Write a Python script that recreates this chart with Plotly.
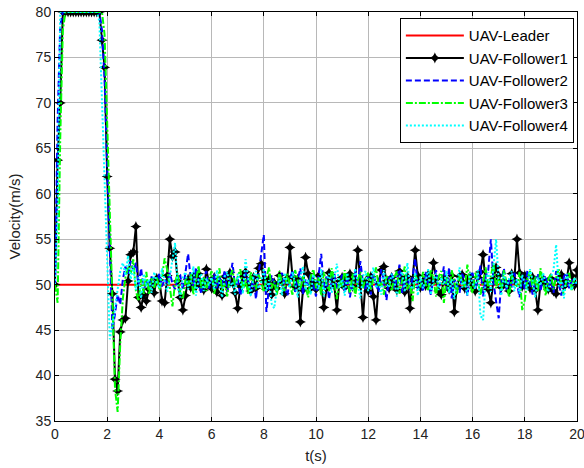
import numpy as np
import plotly.graph_objects as go

# Sampling instants (s), 0.1 s step over 0..20 s
t = np.round(np.linspace(0, 20, 201), 1)

# Leader holds a constant cruise speed
leader_t = [0, 20]
leader_v = [50, 50]

follower1 = [
    50, 63.7, 70, 80, 80, 80, 80, 80, 80, 80,
    80, 80, 80, 80, 80, 80, 80, 80, 76.9, 73.9,
    61.9, 54.0, 49.0, 39.6, 38.3, 44.8, 46.1, 46.3, 50.4, 53.3,
    53.6, 56.4, 48.6, 47.5, 48.9, 48.2, 49.5, 50.3, 49.1, 50.7,
    50.5, 48.2, 48.0, 51.0, 55.0, 53.1, 53.6, 50.4, 48.6, 47.2,
    48.8, 50.6, 49.7, 50.9, 49.8, 51.2, 50.1, 49.4, 51.7, 50.2,
    49.6, 50.8, 49.2, 50.4, 48.8, 50.9, 49.9, 51.3, 50.2, 49.1,
    47.4, 49.8, 50.9, 51.4, 50.0, 49.3, 50.8, 49.6, 51.8, 52.3,
    50.4, 49.5, 50.6, 48.9, 50.2, 49.6, 51.0, 50.3, 49.0, 50.7,
    54.1, 50.9, 49.8, 50.6, 45.9, 49.4, 53.0, 51.2, 49.6, 50.3,
    49.5, 51.0, 50.2, 47.5, 49.6, 51.3, 50.7, 49.9, 47.2, 50.4,
    50.8, 49.7, 50.5, 51.2, 49.8, 50.6, 53.8, 49.9, 46.4, 50.3,
    49.3, 50.9, 48.7, 46.1, 50.2, 51.6, 52.0, 50.4, 49.6, 50.8,
    50.1, 49.4, 51.5, 50.6, 49.2, 50.9, 47.4, 50.5, 53.8, 51.0,
    49.7, 50.4, 49.9, 51.1, 50.3, 52.4, 50.6, 49.3, 48.9, 50.7,
    50.2, 49.5, 51.0, 47.0, 49.8, 50.9, 51.1, 49.6, 50.4, 50.9,
    50.0, 49.3, 50.8, 51.4, 53.3, 50.2, 49.5, 48.0, 50.6, 51.9,
    51.0, 49.7, 50.4, 50.0, 49.3, 51.2, 50.5, 55.0, 51.3, 49.8,
    51.0, 50.2, 49.6, 50.8, 49.4, 47.2, 50.1, 50.6, 50.0, 49.5,
    50.7, 49.3, 49.0, 50.5, 51.1, 49.8, 50.4, 52.4, 51.0, 49.9,
    51.6,
]

follower2 = [
    50, 68.0, 78.5, 80, 80, 80, 80, 80, 80, 80,
    80, 80, 80, 80, 80, 80, 80, 80, 78.0, 72.5,
    63.0, 53.5, 45.0, 46.8, 48.9, 47.8, 50.6, 52.0, 51.2, 52.6,
    51.5, 52.4, 50.0, 51.8, 49.2, 50.5, 49.6, 50.9, 49.9, 50.4,
    51.2, 49.8, 50.6, 50.2, 51.3, 50.1, 49.5, 50.8, 51.0, 49.4,
    51.2, 53.4, 50.6, 49.8, 51.9, 50.4, 49.0, 50.7, 51.5, 49.6,
    50.3, 51.2, 49.5, 50.9, 50.0, 51.6, 49.2, 50.5, 52.4, 49.8,
    50.6, 48.8, 49.9, 51.3, 50.4, 49.3, 50.9, 48.4, 51.2, 53.6,
    55.5, 47.0, 49.8, 51.0, 50.2, 49.4, 50.6, 51.3, 49.7, 48.8,
    50.5, 51.6, 49.2, 50.4, 51.8, 48.9, 50.6, 49.9, 51.2, 50.0,
    48.7, 51.0, 53.4, 49.6, 50.9, 48.4, 50.7, 51.3, 49.5, 50.2,
    51.1, 49.3, 50.8, 48.6, 50.4, 51.5, 49.9, 52.6, 50.2, 49.4,
    50.9, 48.9, 51.3, 50.0, 49.2, 51.7, 50.4, 48.3, 50.8, 51.2,
    49.6, 50.7, 52.2, 49.1, 50.5, 51.0, 49.4, 50.8, 52.9, 49.5,
    50.6, 49.2, 51.4, 50.1, 48.9, 50.7, 51.6, 49.8, 50.3, 52.0,
    49.4, 51.9, 48.5, 50.6, 50.0, 49.1, 51.2, 50.5, 48.8, 50.9,
    51.3, 49.6, 50.4, 52.1, 48.7, 50.9, 51.6, 55.0, 50.3, 48.2,
    46.3, 50.5, 51.8, 49.4, 50.6, 49.7, 51.3, 50.1, 48.6, 50.8,
    49.5, 51.6, 50.2, 48.9, 50.7, 51.2, 49.3, 50.6, 51.0, 49.8,
    50.4, 49.1, 51.5, 50.2, 48.8, 50.9, 51.3, 49.6, 50.5, 50.0,
    50.3,
]

follower3 = [
    50, 48.0, 66.0, 78.0, 80, 80, 80, 80, 80, 80,
    80, 80, 80, 80, 80, 80, 80, 80, 80, 77.5,
    68.0, 59.0, 47.5, 38.5, 36.0, 43.5, 48.5, 50.8, 52.0, 51.2,
    52.8, 49.3, 48.2, 50.6, 49.0, 51.4, 48.9, 50.7, 49.6, 50.9,
    49.4, 50.8, 52.9, 51.6, 49.7, 47.6, 50.2, 51.3, 49.1, 48.4,
    50.6, 49.8, 51.2, 48.9, 50.4, 52.1, 49.6, 50.9, 49.3, 50.6,
    51.5, 49.0, 50.3, 51.8, 49.4, 50.1, 48.7, 50.9, 51.6, 49.8,
    50.9, 51.7, 49.3, 50.6, 48.9, 51.4, 50.2, 49.5, 51.1, 50.3,
    49.2, 50.8, 51.9, 49.6, 50.4, 48.8, 51.5, 50.1, 49.3, 51.2,
    50.0, 48.9, 51.6, 50.5, 49.4, 51.0, 49.8, 48.6, 50.9, 51.7,
    49.6, 50.8, 48.8, 51.4, 50.1, 49.3, 51.8, 50.4, 48.4, 50.7,
    49.8, 51.6, 50.3, 49.1, 51.2, 48.7, 50.5, 51.4, 49.6, 50.8,
    51.3, 49.4, 50.7, 51.9, 49.8, 50.2, 48.9, 51.0, 50.5, 49.3,
    50.8, 51.5, 49.0, 50.6, 52.0, 49.5, 50.2, 48.2, 51.1, 50.4,
    49.7, 51.4, 50.1, 49.3, 51.7, 50.6, 48.7, 50.9, 51.5, 48.0,
    50.8, 49.2, 51.6, 50.3, 48.9, 51.1, 50.5, 49.7, 52.2, 50.0,
    49.1, 51.3, 50.6, 48.8, 50.4, 51.9, 49.5, 50.8, 52.4, 49.6,
    50.9, 49.3, 51.6, 50.2, 48.6, 51.0, 50.4, 49.8, 51.4, 47.2,
    48.3, 50.7, 51.5, 49.6, 50.9, 49.2, 51.8, 50.3, 48.8, 50.6,
    51.2, 49.5, 50.8, 51.7, 49.9, 48.9, 50.6, 51.3, 49.4, 50.7,
    50.2,
]

follower4 = [
    50, 58.0, 80, 80, 80, 80, 80, 80, 80, 80,
    80, 80, 80, 80, 80, 80, 80, 79.0, 70.0, 61.0,
    54.5, 44.0, 45.5, 47.6, 49.8, 51.5, 52.4, 51.0, 53.2, 50.6,
    52.0, 49.4, 50.8, 48.5, 51.2, 49.8, 50.6, 49.1, 51.4, 50.2,
    49.6, 51.8, 50.4, 49.2, 50.9, 53.0, 54.6, 49.7, 48.6, 50.8,
    51.4, 49.5, 50.3, 52.0, 48.8, 50.6, 51.2, 49.3, 50.7, 49.9,
    50.8, 49.4, 51.6, 50.1, 48.6, 50.9, 51.4, 49.7, 50.3, 48.9,
    51.2, 50.4, 49.0, 52.8, 50.6, 48.7, 50.9, 51.5, 49.6, 50.2,
    51.8, 49.3, 50.5, 47.9, 47.4, 49.6, 50.8, 48.8, 51.3, 50.1,
    49.7, 51.4, 50.2, 48.6, 50.9, 52.0, 49.4, 50.6, 48.9, 51.1,
    50.3, 49.5, 51.7, 48.7, 50.4, 51.2, 49.1, 50.8, 52.3, 49.6,
    50.6, 48.8, 51.3, 50.0, 49.4, 51.8, 50.2, 48.5, 50.9, 51.5,
    49.3, 50.7, 51.9, 49.6, 50.4, 48.9, 51.6, 50.1, 49.7, 51.2,
    50.5, 48.7, 50.9, 51.4, 49.2, 52.4, 50.0, 49.5, 51.3, 48.8,
    50.9, 49.6, 50.3, 51.7, 48.9, 50.5, 51.2, 49.4, 50.8, 50.0,
    51.5, 49.1, 50.6, 48.4, 50.2, 51.9, 49.7, 50.4, 48.8, 51.3,
    50.1, 49.5, 51.6, 46.6, 46.1, 50.3, 51.4, 49.2, 52.0, 55.0,
    50.4, 48.8, 51.2, 49.6, 50.7, 51.5, 49.3, 50.6, 49.0, 51.1,
    50.2, 49.4, 51.7, 50.5, 48.6, 50.8, 49.9, 51.3, 50.1, 49.2,
    50.9, 51.6, 54.4, 49.8, 50.6, 48.5, 51.2, 50.0, 49.4, 50.8,
    50.0,
]

x_ticks = [0, 2, 4, 6, 8, 10, 12, 14, 16, 18, 20]
y_ticks = [35, 40, 45, 50, 55, 60, 65, 70, 75, 80]

FONT = "Liberation Sans, Arial, sans-serif"
TEXT = "#222222"

fig = go.Figure()
fig.add_trace(go.Scatter(x=leader_t, y=leader_v, mode="lines", name="UAV-Leader",
                         legendgroup="a", line=dict(color="#ff0000", width=2)))
fig.add_trace(go.Scatter(x=t, y=follower1, mode="lines+markers", name="UAV-Follower1",
                         legendgroup="b", line=dict(color="#000000", width=2),
                         marker=dict(symbol="star-diamond", size=8, color="#000000")))
fig.add_trace(go.Scatter(x=t, y=follower2, mode="lines", name="UAV-Follower2",
                         legendgroup="c", line=dict(color="#0000ff", width=2, dash="6px,3px")))
fig.add_trace(go.Scatter(x=t, y=follower3, mode="lines", name="UAV-Follower3",
                         legendgroup="d", line=dict(color="#00ff00", width=2, dash="7px,2px,2px,2px")))
fig.add_trace(go.Scatter(x=t, y=follower4, mode="lines", name="UAV-Follower4",
                         legendgroup="e", line=dict(color="#00ffff", width=2, dash="2px,2px")))

axis_common = dict(
    showline=True, linecolor="#000000", linewidth=1, mirror="ticks",
    ticks="inside", ticklen=4, tickcolor="#000000", automargin=False,
    ticklabeloverflow="allow",
    showgrid=True, gridcolor="#b8b8b8", gridwidth=1, zeroline=False,
    tickfont=dict(family=FONT, size=14, color=TEXT),
)

fig.update_xaxes(range=[0, 20], tickvals=x_ticks,
                 title=dict(text="t(s)", font=dict(family=FONT, size=15, color=TEXT), standoff=9),
                 **axis_common)
fig.update_yaxes(range=[35, 80], tickvals=y_ticks,
                 title=dict(text="Velocity(m/s)", font=dict(family=FONT, size=15, color=TEXT), standoff=11),
                 **axis_common)

fig.update_layout(
    width=584, height=468,
    margin=dict(l=55, r=7, t=12, b=47),
    paper_bgcolor="#ffffff", plot_bgcolor="#ffffff",
    font=dict(family=FONT, size=14, color=TEXT),
    legend=dict(
        x=0.994, y=0.985, xanchor="right", yanchor="top",
        bgcolor="#ffffff", bordercolor="#000000", borderwidth=1,
        font=dict(family=FONT, size=15, color="#000000"),
        tracegroupgap=0, traceorder="grouped", itemwidth=58,
    ),
)

fig.write_html("out.html")
